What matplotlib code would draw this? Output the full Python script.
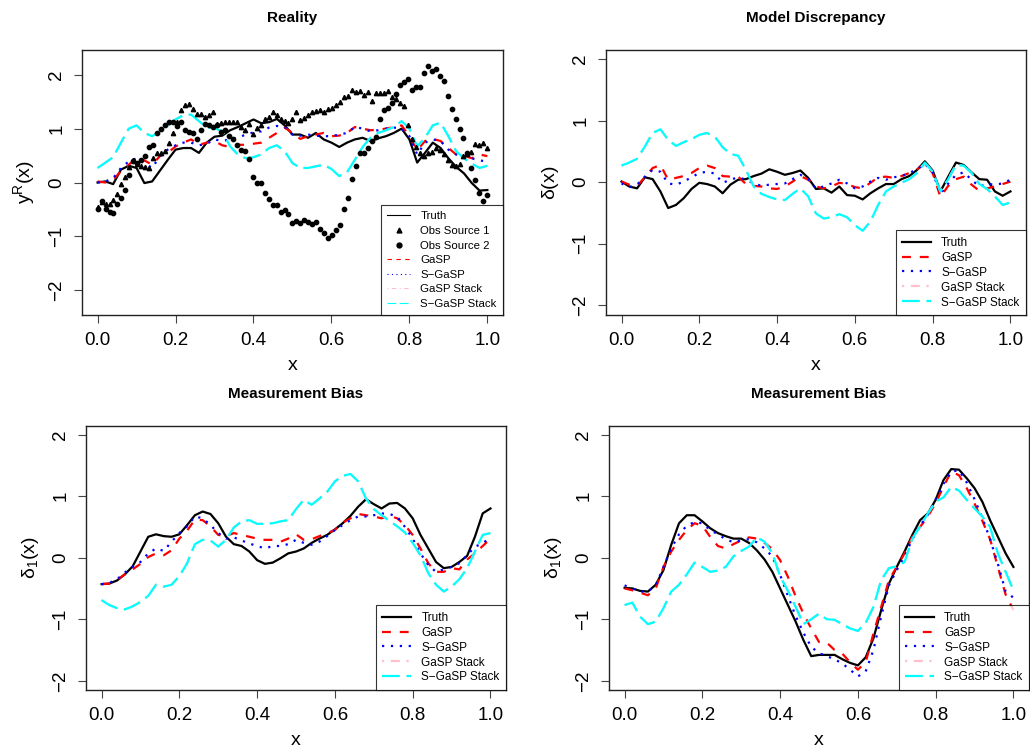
import numpy as np
import matplotlib
matplotlib.use("Agg")
import matplotlib.pyplot as plt
from matplotlib.lines import Line2D

plt.rcParams['font.family'] = ['Liberation Sans', 'DejaVu Sans']
plt.rcParams['mathtext.fontset'] = 'custom'
plt.rcParams['mathtext.rm'] = 'Liberation Sans'
plt.rcParams['mathtext.it'] = 'Liberation Sans'

# common x grid for the fitted curves (step 0.02)
x_grid = np.linspace(0, 1, 51)

# ---- panel 1: Reality ----
truth_1 = [0.00, 0.02, -0.03, 0.24, 0.31, 0.27, -0.01, 0.02, 0.22, 0.42,
           0.61, 0.64, 0.64, 0.55, 0.74, 0.85, 0.87, 0.97, 1.03, 1.10,
           1.17, 1.10, 1.12, 1.18, 1.06, 0.89, 0.89, 0.83, 0.92, 0.80,
           0.74, 0.66, 0.74, 0.80, 0.83, 0.77, 0.82, 0.86, 0.92, 1.00,
           0.80, 0.37, 0.55, 0.74, 0.64, 0.45, 0.29, 0.17, -0.01, -0.15, -0.14]
gasp_1 = [0.02, 0.00, 0.05, 0.21, 0.33, 0.45, 0.41, 0.33, 0.49, 0.55,
          0.67, 0.74, 0.80, 0.70, 0.74, 0.77, 0.69, 0.66, 0.70, 0.70,
          0.72, 0.74, 0.83, 0.92, 1.02, 0.92, 0.81, 0.86, 0.89, 0.92,
          0.86, 0.87, 0.92, 1.03, 1.00, 0.97, 0.98, 1.00, 1.03, 1.06,
          0.86, 0.60, 0.77, 0.81, 0.77, 0.64, 0.52, 0.50, 0.45, 0.52, 0.49]
sgasp_1 = [0.00, 0.02, 0.08, 0.27, 0.39, 0.45, 0.36, 0.27, 0.49, 0.61,
           0.69, 0.74, 0.74, 0.69, 0.72, 0.80, 0.77, 0.80, 0.83, 0.89,
           0.93, 0.95, 1.02, 1.05, 1.03, 0.89, 0.87, 0.89, 0.87, 0.86,
           0.86, 0.89, 0.92, 1.03, 1.00, 0.95, 0.97, 1.00, 1.02, 1.00,
           0.86, 0.52, 0.74, 0.80, 0.77, 0.61, 0.52, 0.49, 0.45, 0.41, 0.39]
gasp_stack_1 = [0.27, 0.37, 0.47, 0.74, 1.00, 1.06, 0.92, 0.86, 0.95, 1.06,
                1.17, 1.25, 1.26, 1.14, 1.02, 1.01, 0.95, 0.67, 0.52, 0.45,
                0.47, 0.52, 0.64, 0.69, 0.58, 0.36, 0.27, 0.27, 0.30, 0.33,
                0.25, 0.12, 0.19, 0.42, 0.66, 0.83, 0.92, 0.97, 1.03, 1.14,
                1.00, 0.67, 0.83, 1.06, 1.11, 0.86, 0.58, 0.45, 0.35, 0.27, 0.31]
sgasp_stack_1 = [0.27, 0.37, 0.47, 0.74, 1.00, 1.06, 0.92, 0.86, 0.95, 1.06,
                 1.17, 1.25, 1.26, 1.14, 1.02, 1.01, 0.95, 0.67, 0.52, 0.45,
                 0.47, 0.52, 0.64, 0.69, 0.58, 0.36, 0.27, 0.27, 0.30, 0.33,
                 0.25, 0.12, 0.19, 0.42, 0.66, 0.83, 0.92, 0.97, 1.03, 1.14,
                 1.00, 0.67, 0.83, 1.06, 1.11, 0.86, 0.58, 0.45, 0.35, 0.27, 0.31]

obs_source_1 = [-0.45, -0.36, -0.39, -0.39, -0.32, -0.21, -0.02, 0.10, 0.29, 0.42,
                0.35, 0.31, 0.29, 0.27, 0.45, 0.55, 0.55, 0.59, 0.74, 0.91,
                1.12, 1.35, 1.43, 1.45, 1.36, 1.28, 1.28, 1.22, 1.25, 1.31,
                1.08, 1.11, 1.12, 1.12, 1.12, 1.12, 1.03, 0.98, 1.08, 0.90,
                1.02, 1.06, 1.17, 1.22, 1.31, 1.26, 1.17, 1.14, 1.11, 1.17,
                1.31, 1.16, 1.20, 1.25, 1.30, 1.33, 1.34, 1.31, 1.36, 1.39,
                1.44, 1.50, 1.58, 1.60, 1.72, 1.68, 1.70, 1.62, 1.68, 1.51,
                1.67, 1.67, 1.67, 1.70, 1.58, 1.55, 1.48, 1.42, 1.06, 0.80,
                0.66, 0.55, 0.49, 0.55, 0.56, 0.64, 0.60, 0.52, 0.42, 0.33,
                0.31, 0.35, 0.49, 0.52, 0.56, 0.72, 0.69, 0.74, 0.64]
obs_source_2 = [-0.49, -0.34, -0.50, -0.55, -0.57, -0.40, -0.29, -0.14, 0.14, 0.39,
                0.36, 0.42, 0.50, 0.66, 0.70, 0.91, 1.00, 1.06, 1.12, 1.12,
                1.05, 1.12, 0.98, 0.93, 0.92, 0.80, 0.98, 1.08, 1.06, 1.03,
                1.06, 0.93, 0.98, 0.86, 0.80, 0.69, 0.61, 0.59, 0.44, 0.11,
                -0.01, -0.01, -0.20, -0.31, -0.42, -0.42, -0.54, -0.51, -0.59, -0.75,
                -0.71, -0.75, -0.69, -0.73, -0.77, -0.73, -0.87, -0.93, -1.03, -0.97,
                -0.88, -0.78, -0.50, -0.28, 0.06, 0.30, 0.54, 0.55, 0.64, 0.77,
                0.85, 1.17, 1.34, 1.39, 1.48, 1.64, 1.81, 1.87, 1.92, 1.72,
                1.78, 1.78, 2.04, 2.16, 2.07, 2.11, 1.98, 1.89, 1.61, 1.37,
                1.18, 1.00, 0.83, 0.55, 0.27, 0.04, -0.19, -0.34, -0.23]

# ---- panel 2: Model Discrepancy ----
truth_2 = [0.01, -0.07, -0.10, 0.08, 0.05, -0.15, -0.42, -0.37, -0.26, -0.11,
           -0.01, -0.03, -0.07, -0.18, -0.04, 0.04, 0.05, 0.10, 0.14, 0.21,
           0.17, 0.12, 0.15, 0.19, 0.07, -0.11, -0.10, -0.17, -0.07, -0.21,
           -0.22, -0.28, -0.18, -0.10, -0.03, -0.03, 0.05, 0.10, 0.20, 0.34,
           0.19, -0.15, 0.09, 0.32, 0.28, 0.16, 0.05, 0.04, -0.15, -0.22, -0.15]
gasp_2 = [0.01, -0.04, -0.06, 0.08, 0.23, 0.28, 0.04, 0.07, 0.10, 0.15,
          0.23, 0.27, 0.23, 0.10, 0.09, 0.09, -0.03, -0.06, -0.07, -0.10,
          -0.11, -0.07, 0.01, 0.10, 0.04, -0.07, -0.10, -0.07, -0.01, -0.03,
          -0.08, -0.10, -0.01, 0.08, 0.09, 0.07, 0.10, 0.15, 0.21, 0.30,
          0.15, -0.24, -0.06, 0.05, 0.09, -0.04, -0.14, -0.10, -0.07, -0.03, 0.01]
sgasp_2 = [-0.02, -0.08, -0.04, 0.09, 0.20, 0.17, -0.02, -0.04, 0.01, 0.08,
           0.15, 0.17, 0.14, -0.01, 0.04, 0.08, 0.04, -0.02, -0.06, -0.04,
           -0.03, -0.02, 0.05, 0.12, 0.05, -0.10, -0.07, -0.02, 0.04, -0.02,
           -0.10, -0.07, 0.01, 0.07, 0.04, 0.08, 0.10, 0.15, 0.21, 0.30,
           0.16, -0.19, -0.02, 0.12, 0.16, 0.04, -0.07, -0.03, -0.04, -0.02, 0.04]
gasp_stack_2 = [0.27, 0.32, 0.38, 0.58, 0.80, 0.86, 0.69, 0.59, 0.65, 0.70,
                0.77, 0.80, 0.74, 0.57, 0.46, 0.43, 0.20, -0.07, -0.19, -0.24,
                -0.28, -0.29, -0.19, -0.10, -0.23, -0.51, -0.59, -0.57, -0.52, -0.57,
                -0.70, -0.79, -0.64, -0.37, -0.15, -0.07, -0.01, 0.05, 0.15, 0.32,
                0.17, -0.15, 0.05, 0.28, 0.27, 0.15, -0.03, -0.11, -0.23, -0.37, -0.33]
sgasp_stack_2 = [0.27, 0.32, 0.38, 0.58, 0.80, 0.86, 0.69, 0.59, 0.65, 0.70,
                 0.77, 0.80, 0.74, 0.57, 0.46, 0.43, 0.20, -0.07, -0.19, -0.24,
                 -0.28, -0.29, -0.19, -0.10, -0.23, -0.51, -0.59, -0.57, -0.52, -0.57,
                 -0.70, -0.79, -0.64, -0.37, -0.15, -0.07, -0.01, 0.05, 0.15, 0.32,
                 0.17, -0.15, 0.05, 0.28, 0.27, 0.15, -0.03, -0.11, -0.23, -0.37, -0.33]

# ---- panel 3: Measurement Bias (source 1) ----
truth_3 = [-0.43, -0.42, -0.37, -0.27, -0.14, 0.10, 0.34, 0.38, 0.35, 0.34,
           0.38, 0.53, 0.69, 0.75, 0.71, 0.56, 0.34, 0.22, 0.19, 0.10,
           -0.04, -0.10, -0.08, -0.01, 0.07, 0.10, 0.15, 0.24, 0.31, 0.37,
           0.46, 0.56, 0.68, 0.83, 0.95, 0.87, 0.80, 0.88, 0.89, 0.80,
           0.64, 0.37, 0.15, -0.07, -0.17, -0.15, -0.07, 0.03, 0.34, 0.72, 0.80]
gasp_3 = [-0.43, -0.42, -0.36, -0.27, -0.19, -0.10, 0.01, 0.07, 0.04, 0.12,
          0.31, 0.44, 0.62, 0.61, 0.51, 0.37, 0.35, 0.40, 0.37, 0.34,
          0.31, 0.29, 0.29, 0.26, 0.31, 0.38, 0.29, 0.30, 0.35, 0.40,
          0.45, 0.57, 0.64, 0.71, 0.69, 0.67, 0.64, 0.68, 0.64, 0.53,
          0.37, 0.15, -0.09, -0.23, -0.23, -0.17, -0.19, -0.03, 0.07, 0.19, 0.31]
sgasp_3 = [-0.43, -0.41, -0.35, -0.24, -0.15, -0.07, 0.07, 0.15, 0.11, 0.26,
           0.40, 0.51, 0.67, 0.64, 0.53, 0.40, 0.31, 0.33, 0.28, 0.23,
           0.19, 0.15, 0.19, 0.19, 0.22, 0.29, 0.24, 0.21, 0.26, 0.35,
           0.45, 0.53, 0.61, 0.67, 0.67, 0.69, 0.72, 0.71, 0.67, 0.50,
           0.31, 0.07, -0.12, -0.23, -0.19, -0.15, -0.09, 0.04, 0.18, 0.23, 0.34]
gasp_stack_3 = [-0.69, -0.77, -0.82, -0.84, -0.79, -0.72, -0.62, -0.44, -0.47, -0.44,
                -0.30, -0.09, 0.22, 0.29, 0.28, 0.18, 0.29, 0.49, 0.59, 0.61,
                0.55, 0.55, 0.56, 0.59, 0.61, 0.79, 0.94, 0.86, 0.96, 1.07,
                1.24, 1.33, 1.36, 1.24, 0.96, 0.79, 0.69, 0.60, 0.51, 0.41,
                0.24, 0.04, -0.25, -0.44, -0.55, -0.47, -0.35, -0.17, 0.10, 0.37, 0.40]
sgasp_stack_3 = [-0.69, -0.77, -0.82, -0.84, -0.79, -0.72, -0.62, -0.44, -0.47, -0.44,
                 -0.30, -0.09, 0.22, 0.29, 0.28, 0.18, 0.29, 0.49, 0.59, 0.61,
                 0.55, 0.55, 0.56, 0.59, 0.61, 0.79, 0.94, 0.86, 0.96, 1.07,
                 1.24, 1.33, 1.36, 1.24, 0.96, 0.79, 0.69, 0.60, 0.51, 0.41,
                 0.24, 0.04, -0.25, -0.44, -0.55, -0.47, -0.35, -0.17, 0.10, 0.37, 0.40]

# ---- panel 4: Measurement Bias (source 2) ----
truth_4 = [-0.49, -0.50, -0.54, -0.55, -0.44, -0.20, 0.21, 0.56, 0.69, 0.69,
           0.59, 0.48, 0.40, 0.35, 0.31, 0.31, 0.24, 0.12, -0.03, -0.23,
           -0.50, -0.77, -1.04, -1.34, -1.60, -1.58, -1.58, -1.58, -1.65, -1.71,
           -1.75, -1.62, -1.31, -0.85, -0.42, -0.15, 0.10, 0.37, 0.61, 0.72,
           0.94, 1.26, 1.44, 1.43, 1.29, 1.13, 0.91, 0.61, 0.34, 0.07, -0.15]
gasp_4 = [-0.50, -0.53, -0.57, -0.61, -0.50, -0.15, 0.10, 0.29, 0.45, 0.56,
          0.52, 0.34, 0.19, 0.15, 0.22, 0.28, 0.33, 0.31, 0.24, 0.14,
          -0.04, -0.31, -0.63, -0.91, -1.15, -1.37, -1.38, -1.50, -1.56, -1.70,
          -1.82, -1.70, -1.23, -0.80, -0.36, -0.15, 0.07, 0.34, 0.50, 0.67,
          0.89, 1.15, 1.40, 1.34, 1.13, 0.88, 0.60, 0.30, -0.15, -0.60, -0.85]
sgasp_4 = [-0.45, -0.50, -0.55, -0.55, -0.45, -0.15, 0.15, 0.38, 0.52, 0.58,
           0.56, 0.45, 0.38, 0.30, 0.25, 0.28, 0.30, 0.25, 0.15, 0.02,
           -0.28, -0.62, -0.95, -1.22, -1.45, -1.55, -1.60, -1.65, -1.72, -1.82,
           -1.93, -1.85, -1.50, -0.95, -0.45, -0.20, 0.02, 0.30, 0.52, 0.70,
           0.95, 1.20, 1.40, 1.42, 1.22, 0.95, 0.65, 0.30, -0.10, -0.55, -0.65]
gasp_stack_4 = [-0.77, -0.73, -0.96, -1.08, -1.04, -0.82, -0.55, -0.44, -0.27, -0.08,
                -0.15, -0.23, -0.21, -0.15, 0.02, 0.11, 0.18, 0.33, 0.26, 0.07,
                -0.30, -0.54, -0.80, -1.08, -1.00, -0.91, -1.00, -1.01, -1.08, -1.15,
                -1.19, -1.06, -0.80, -0.36, -0.17, -0.14, -0.07, 0.31, 0.51, 0.72,
                0.91, 0.98, 1.15, 1.09, 0.94, 0.80, 0.67, 0.50, 0.07, -0.23, -0.53]
sgasp_stack_4 = [-0.77, -0.73, -0.96, -1.08, -1.04, -0.82, -0.55, -0.44, -0.27, -0.08,
                 -0.15, -0.23, -0.21, -0.15, 0.02, 0.11, 0.18, 0.33, 0.26, 0.07,
                 -0.30, -0.54, -0.80, -1.08, -1.00, -0.91, -1.00, -1.01, -1.08, -1.15,
                 -1.19, -1.06, -0.80, -0.36, -0.17, -0.14, -0.07, 0.31, 0.51, 0.72,
                 0.91, 0.98, 1.15, 1.09, 0.94, 0.80, 0.67, 0.50, 0.07, -0.23, -0.53]

x_ticks = [0.0, 0.2, 0.4, 0.6, 0.8, 1.0]
y_ticks = [-2, -1, 0, 1, 2]
MINUS = '\u2212'
names = ['Truth', 'GaSP', 'S' + MINUS + 'GaSP', 'GaSP Stack', 'S' + MINUS + 'GaSP Stack']
styles = [dict(color='black'),
          dict(color='red', dashes=(4, 4)),
          dict(color='blue', dashes=(1, 3)),
          dict(color='pink', dashes=(1, 3, 4, 3)),
          dict(color='cyan', dashes=(8, 3))]

LW = 1.6

fig = plt.figure(figsize=(10.3, 7.54), dpi=100)


def style_axes(ax, title, ylabel, ylim):
    ax.set_xlim(-0.04, 1.04)
    ax.set_ylim(*ylim)
    ax.set_xticks(x_ticks)
    ax.set_xticklabels([f"{t:.1f}" for t in x_ticks])
    ax.set_yticks(y_ticks)
    ax.tick_params(axis='both', direction='out', length=6, width=0.8,
                   labelsize=13.5, color='#444444')
    ax.tick_params(axis='x', pad=6)
    ax.tick_params(axis='y', pad=6)
    for lab in ax.get_yticklabels():
        lab.set_rotation(90)
        lab.set_va('center')
    for s in ax.spines.values():
        s.set_linewidth(1.0)
        s.set_color('#222222')
    ax.set_title(title, fontweight='bold', fontsize=11, pad=20)
    ax.set_xlabel('x', fontsize=14, labelpad=6)
    ax.set_ylabel(ylabel, fontsize=14, labelpad=8)


def draw_fits(ax, curves):
    for ys, st in zip(curves, styles):
        ax.plot(x_grid, ys, lw=LW, **st)


def add_legend(ax, thin=False, with_obs=False):
    lw = 0.8 if thin else 1.6
    handles = [Line2D([], [], lw=lw, **st) for st in styles]
    labels = list(names)
    if with_obs:
        handles.insert(1, Line2D([], [], ls='none', marker='^', ms=3.5, color='black'))
        handles.insert(2, Line2D([], [], ls='none', marker='o', ms=3.5, color='black'))
        labels.insert(1, 'Obs Source 1')
        labels.insert(2, 'Obs Source 2')
    leg = ax.legend(handles, labels, loc='lower right',
                    fontsize=8.2 if with_obs else 8.5,
                    frameon=True, fancybox=False, borderaxespad=0,
                    handlelength=2.0 if with_obs else 2.4,
                    handletextpad=0.9,
                    labelspacing=0.4 if with_obs else 0.25,
                    borderpad=0.55, numpoints=1)
    leg.get_frame().set_edgecolor('black')
    leg.get_frame().set_linewidth(0.8)


# panel 1
ax1 = fig.add_axes([0.0796, 0.5822, 0.4087, 0.3515])
x_obs = np.linspace(0, 1, len(obs_source_1))
draw_fits(ax1, [truth_1, gasp_1, sgasp_1, gasp_stack_1, sgasp_stack_1])
ax1.plot(x_obs, obs_source_1, ls='none', marker='^', ms=3.1, color='black')
ax1.plot(x_obs, obs_source_2, ls='none', marker='o', ms=3.1, color='black')
style_axes(ax1, 'Reality', r'$\mathregular{y^R(x)}$', (-2.46, 2.46))
add_legend(ax1, thin=True, with_obs=True)

# panel 2
ax2 = fig.add_axes([0.5883, 0.5822, 0.4078, 0.3515])
draw_fits(ax2, [truth_2, gasp_2, sgasp_2, gasp_stack_2, sgasp_stack_2])
style_axes(ax2, 'Model Discrepancy', r'$\mathregular{\delta(x)}$', (-2.16, 2.15))
add_legend(ax2)

# panel 3
ax3 = fig.add_axes([0.0835, 0.0849, 0.4078, 0.3501])
draw_fits(ax3, [truth_3, gasp_3, sgasp_3, gasp_stack_3, sgasp_stack_3])
style_axes(ax3, 'Measurement Bias', r'$\mathregular{\delta_1(x)}$', (-2.15, 2.14))
add_legend(ax3)

# panel 4
ax4 = fig.add_axes([0.5913, 0.0849, 0.4077, 0.3501])
draw_fits(ax4, [truth_4, gasp_4, sgasp_4, gasp_stack_4, sgasp_stack_4])
style_axes(ax4, 'Measurement Bias', r'$\mathregular{\delta_1(x)}$', (-2.15, 2.14))
add_legend(ax4)

fig.savefig('out.png', dpi=100)
